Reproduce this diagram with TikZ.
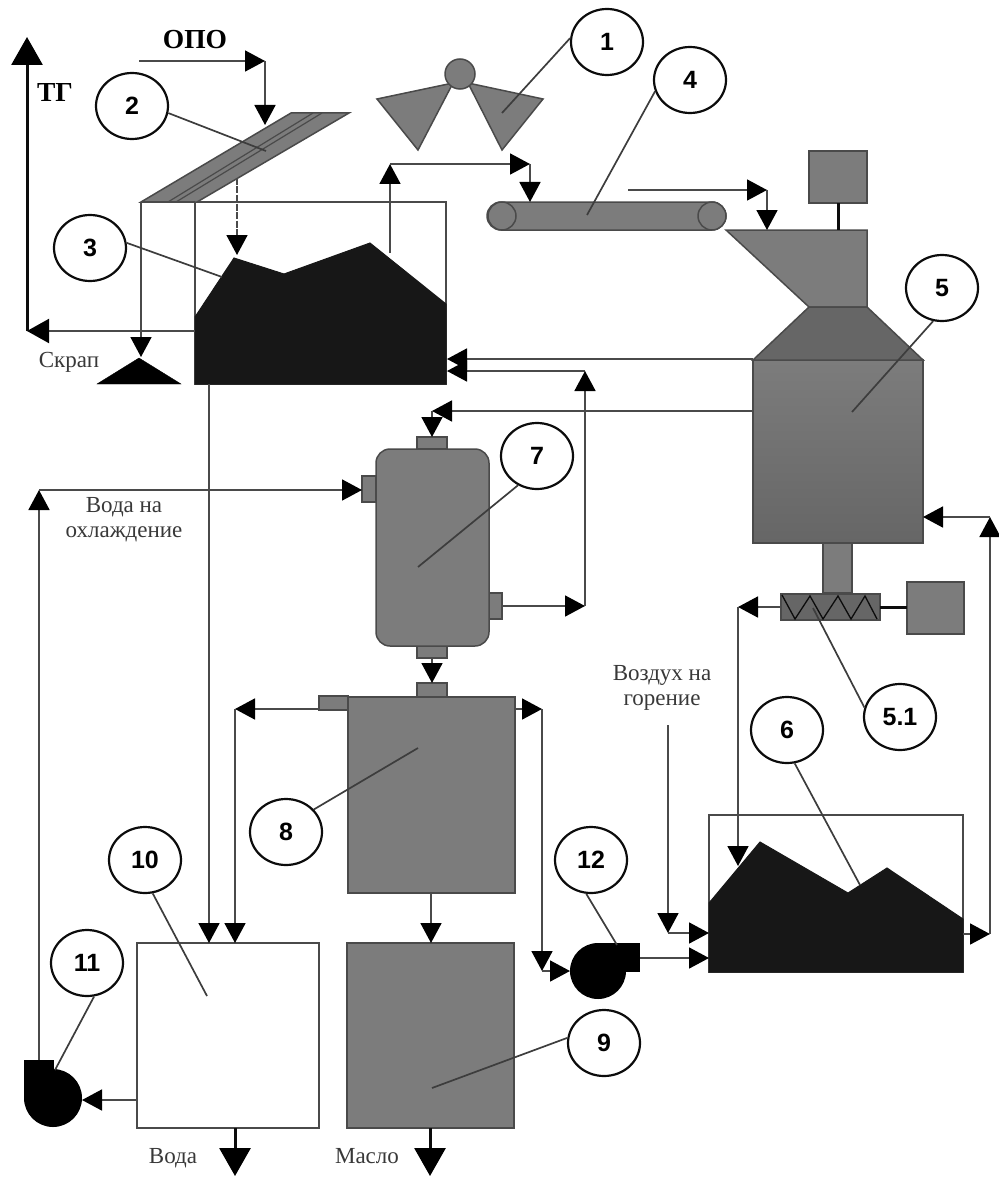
\documentclass[tikz,border=0pt]{standalone}
\usepackage{fontspec}
\setmainfont{Liberation Serif}
\newfontfamily\numfont{Liberation Sans}
\usetikzlibrary{arrows.meta,shapes.geometric}
\definecolor{ink}{HTML}{0C0C0C}
\definecolor{pipe}{HTML}{4A4A4A}
\definecolor{steel}{HTML}{7C7C7C}
\definecolor{steeldark}{HTML}{666666}
\definecolor{coal}{HTML}{171717}
\tikzset{
  x=1pt,y=-1pt,
  flow/.style={draw=pipe,line width=1.7pt,-{Triangle[length=20pt,width=21pt,color=black]}},
  flowbold/.style={draw=ink,line width=3pt,-{Triangle[length=28pt,width=31pt,color=black]}},
  plain/.style={draw=pipe,line width=1.7pt},
  leader/.style={draw=ink!80,line width=1.7pt},
  equip/.style={draw=pipe,line width=1.5pt,fill=steel,inner sep=0pt,outer sep=0pt},
  pile/.style={fill=coal,draw=coal,line width=1pt},
  binframe/.style={draw=pipe,line width=1.5pt,fill=none,inner sep=0pt,outer sep=0pt},
  tag/.style={ellipse,draw=ink,line width=2.2pt,fill=white,minimum width=72pt,minimum height=66pt,inner sep=0pt,font=\numfont\bfseries\fontsize{25}{25}\selectfont},
  lbl/.style={font=\fontsize{23}{25}\selectfont,text=black!78,align=center,inner sep=0pt},
  lblbold/.style={font=\bfseries\fontsize{27.5}{27.5}\selectfont,inner sep=0pt},
}
\begin{document}
\begin{tikzpicture}
\useasboundingbox (0,0) rectangle (998,1177);
% equipment boxes
\node[binframe,minimum width=251pt,minimum height=182pt] (bin3) at (320.5,293) {};
\node[binframe,minimum width=254pt,minimum height=157pt] (bin6) at (836,893.5) {};
\node[equip,fill=white,minimum width=182pt,minimum height=185pt] (box10) at (228,1035.5) {};
\node[equip,minimum width=167pt,minimum height=185pt] (box9) at (430.5,1035.5) {};
\node[equip,minimum width=29pt,minimum height=14pt] (noz8left) at (333.5,703) {};
\node[equip,minimum width=167pt,minimum height=196pt] (body8) at (431.5,795) {};
\node[equip,minimum width=30pt,minimum height=14pt] (noz8top) at (432,690) {};
\node[equip,minimum width=30pt,minimum height=12pt] (noz7top) at (432,443) {};
\node[equip,minimum width=14pt,minimum height=26pt] (noz7left) at (369,489) {};
\node[equip,minimum width=13pt,minimum height=26pt] (noz7right) at (495.5,606) {};
\node[equip,minimum width=30pt,minimum height=12pt] (noz7bot) at (432,652) {};
\node[equip,rounded corners=14pt,minimum width=113pt,minimum height=197pt] (vessel7) at (432.5,547.5) {};
\node[equip,top color=steel,bottom color=steeldark,minimum width=170pt,minimum height=183pt] (body5) at (838,451.5) {};
\node[equip,minimum width=58pt,minimum height=52pt] (motorA) at (838,177) {};
\node[equip,minimum width=57pt,minimum height=52pt] (motorB) at (935.5,608) {};
\node[equip,minimum width=29pt,minimum height=50pt] (stem) at (837.5,568) {};
\node[equip,fill=steeldark,minimum width=99pt,minimum height=26pt] (screw) at (830.5,607) {};
\node[equip,rounded corners=14pt,minimum width=239pt,minimum height=28pt] (belt) at (606.5,216) {};
\node[equip,circle,minimum size=28pt] (rollL) at (502,216) {};
\node[equip,circle,minimum size=28pt] (rollR) at (712,216) {};
% shapes drawn directly
\draw[equip] (726,230) -- (867,230) -- (867,307) -- (809,307) -- cycle;
\draw[equip,fill=steeldark] (809,307) -- (867,307) -- (923,360) -- (753,360) -- cycle;
\draw[equip] (141,202) -- (291,113) -- (349,113) -- (197,202) -- cycle;
\draw[plain,line width=1.2pt] (168,202) -- (313,113) (176,202) -- (322,113);
\draw[equip] (377,99) -- (453,83) -- (418,150) -- cycle;
\draw[equip] (543,99) -- (468,83) -- (502,150) -- cycle;
\node[equip,circle,minimum size=30pt] (pivot) at (460,74) {};
\draw[plain] (141,202) -- (195,202);
\draw[ink,line width=1.3pt] (782,595) -- (795,619) -- (810,596) -- (823,619) -- (838,596) -- (851,619) -- (865,596) -- (877,619);
% black piles, scrap, fans
\draw[pile] (195,317) -- (234,258) -- (284,274) -- (370,243) -- (446,304) -- (446,384) -- (195,384) -- cycle;
\draw[pile] (709,903) -- (760,842) -- (848,893) -- (887,868) -- (963,919) -- (963,972) -- (709,972) -- cycle;
\draw[fill=black,draw=black] (139,358) -- (181,384) -- (97,384) -- cycle;
\fill[black] (598,971) circle[radius=28];
\fill[black] (598,943) rectangle (640,972);
\fill[black] (53,1098) circle[radius=29];
\fill[black] (24,1060) rectangle (54,1098);
% motor shafts
\draw[ink,line width=3pt] (motorA.south) -- (motorA.south |- 0,230);
\draw[ink,line width=3pt] (screw.east) -- (screw.east -| motorB.west);
% junction points of the pipes
\coordinate (opoS) at (139,61);
\coordinate (opoC) at (265,61);
\coordinate (opoE) at (265,125);
\coordinate (chuteOut) at (237,178);
\coordinate (pile3in) at (237,255);
\coordinate (scrapS) at (141,202);
\coordinate (scrapE) at (141,357);
\coordinate (pile3top) at (390,253);
\coordinate (upC) at (390,164);
\coordinate (beltC) at (530,164);
\coordinate (beltIn) at (530,202);
\coordinate (feedS) at (628,190);
\coordinate (feedC) at (767,190);
\coordinate (feedE) at (767,230);
\coordinate (tgC) at (27,331);
\coordinate (tgTop) at (27,37);
\coordinate (bin3W) at (195,331);
\coordinate (r1) at (753,359);
\coordinate (r1E) at (447,359);
\coordinate (r2C) at (585,371);
\coordinate (r2E) at (447,371);
\coordinate (r3) at (753,411);
\coordinate (r3C) at (432,411);
\coordinate (v7C) at (585,606);
\coordinate (waterS) at (39,1060);
\coordinate (waterC) at (39,490);
\coordinate (d3) at (209,384);
\coordinate (d8C) at (235,709);
\coordinate (d8R) at (542,709);
\coordinate (fan12C) at (542,971);
\coordinate (fan12In) at (570,971);
\coordinate (airS) at (668,725);
\coordinate (airC) at (668,933);
\coordinate (airE) at (709,933);
\coordinate (fan12Out) at (640,958);
\coordinate (pile6In) at (709,958);
\coordinate (pile6R) at (963,934);
\coordinate (riseC) at (990,934);
\coordinate (riseTop) at (990,517);
\coordinate (body5In) at (923,517);
\coordinate (screwC) at (738,607);
\coordinate (pile6Top) at (738,866);
\coordinate (pump11In) at (82,1100);
\coordinate (box10W) at (137,1100);
\coordinate (v8Out) at (431,893);
\coordinate (v9In) at (431,943);
\coordinate (water1) at (235,1128);
\coordinate (water2) at (235,1176);
\coordinate (oil1) at (430,1128);
\coordinate (oil2) at (430,1176);
% connectors
\draw[flow] (opoS) -- (opoC);
\draw[flow] (opoC) -- (opoE);
\draw[flow,dash pattern=on 7pt off 1.5pt] (chuteOut) -- (pile3in);
\draw[flow] (scrapS) -- (scrapE);
\draw[flow] (pile3top) -- (upC);
\draw[flow] (upC) -- (beltC);
\draw[flow] (beltC) -- (beltIn);
\draw[flow] (feedS) -- (feedC);
\draw[flow] (feedC) -- (feedE);
\draw[flow,line width=2pt,-{Triangle[length=22pt,width=24pt,color=black]}] (bin3W) -- (tgC);
\draw[flowbold] (tgC) -- (tgTop);
\draw[flow] (r1) -- (r1E);
\draw[flow] (r2C) -- (r2E);
\draw[flow] (r3) -- (r3C);
\draw[flow] (r3C) -- (noz7top.north);
\draw[flow] (noz7right.east |- v7C) -- (v7C);
\draw[flow] (v7C) -- (r2C);
\draw[flow] (noz7bot.south) -- (noz8top.north);
\draw[flow] (waterS) -- (waterC);
\draw[flow] (waterC) -- (noz7left.west |- waterC);
\draw[flow] (d3) -- (d3 |- box10.north);
\draw[flow] (noz8left.west |- d8C) -- (d8C);
\draw[flow] (d8C) -- (d8C |- box10.north);
\draw[flow] (body8.east |- d8R) -- (d8R);
\draw[flow] (d8R) -- (fan12C);
\draw[flow] (fan12C) -- (fan12In);
\draw[flow] (airS) -- (airC);
\draw[flow] (airC) -- (airE);
\draw[flow] (fan12Out) -- (pile6In);
\draw[flow] (pile6R) -- (riseC);
\draw[flow] (riseC) -- (riseTop);
\draw[flow] (riseTop) -- (body5In);
\draw[flow] (screw.west) -- (screwC);
\draw[flow] (screwC) -- (pile6Top);
\draw[flow] (box10W) -- (pump11In);
\draw[flow] (v8Out) -- (v9In);
\draw[flowbold] (water1) -- (water2);
\draw[flowbold] (oil1) -- (oil2);
% numbered tags
\node[tag] (t1) at (607,42) {1};
\node[tag] (t2) at (132,106) {2};
\node[tag] (t3) at (90,248) {3};
\node[tag] (t4) at (690,80) {4};
\node[tag] (t5) at (942,288) {5};
\node[tag] (t51) at (900,717) {5.1};
\node[tag] (t6) at (787,730) {6};
\node[tag] (t7) at (537,456) {7};
\node[tag] (t8) at (286,832) {8};
\node[tag] (t9) at (604,1043) {9};
\node[tag] (t10) at (145,860) {10};
\node[tag] (t11) at (87,963) {11};
\node[tag] (t12) at (591,860) {12};
% leader targets
\coordinate (a1) at (502,113);
\coordinate (a2) at (266,151);
\coordinate (a3) at (222,277);
\coordinate (a4) at (587,215);
\coordinate (a5) at (852,412);
\coordinate (a51) at (813,608);
\coordinate (a6) at (860,885);
\coordinate (a7) at (418,567);
\coordinate (a8) at (418,748);
\coordinate (a9) at (432,1088);
\coordinate (a10) at (207,996);
\coordinate (a11) at (55,1070);
\coordinate (a12) at (617,945);
\draw[leader] (t1.174) -- (a1);
\draw[leader] (t2.-11) -- (a2);
\draw[leader] (t3.8) -- (a3);
\draw[leader] (t4.198) -- (a4);
\draw[leader] (t5.255) -- (a5);
\draw[leader] (t51.165) -- (a51);
\draw[leader] (t6.-77) -- (a6);
\draw[leader] (t7.237) -- (a7);
\draw[leader] (t8.39) -- (a8);
\draw[leader] (t9.172) -- (a9);
\draw[leader] (t10.-77) -- (a10);
\draw[leader] (t11.-78) -- (a11);
\draw[leader] (t12.262) -- (a12);
% texts
\node[lblbold] (lopo) at (195,40) {ОПО};
\node[lblbold] (ltg) at (55,92) {ТГ};
\node[lbl] (lscrap) at (69,362) {Скрап};
\node[lbl] (lcool) at (124,520) {Вода на\\охлаждение};
\node[lbl] (lair) at (662,688) {Воздух на\\горение};
\node[lbl,anchor=base] (lwater) at (173,1163) {Вода};
\node[lbl,anchor=base] (loil) at (367,1163) {Масло};
\end{tikzpicture}
\end{document}
